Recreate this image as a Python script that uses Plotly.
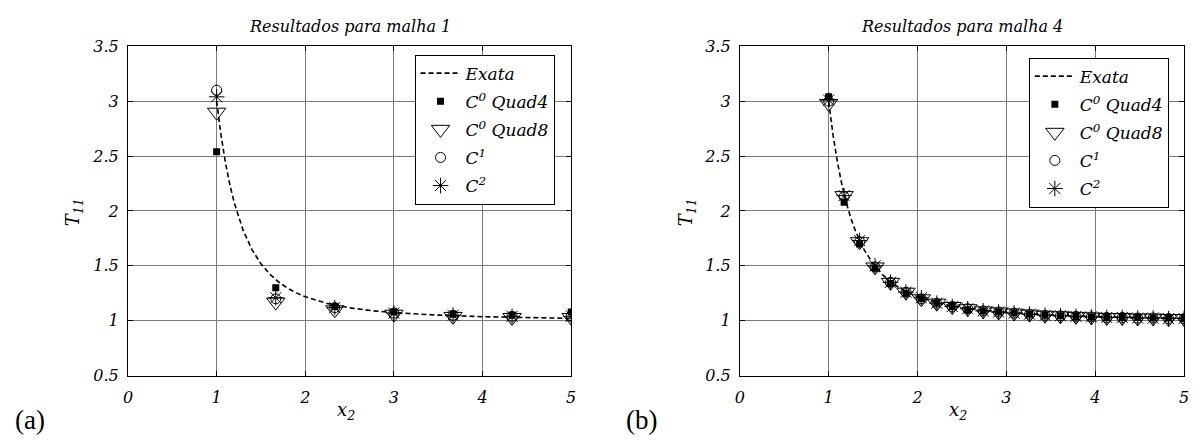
import plotly.graph_objects as go

# Exact solution T11 along x2 (reference curve)
exact_x = [1.00, 1.05, 1.10, 1.15, 1.20, 1.25, 1.30, 1.40, 1.50, 1.60, 1.70,
           1.80, 1.90, 2.00, 2.25, 2.50, 2.75, 3.00, 3.50, 4.00, 4.50, 5.00]
exact_y = [3.000, 2.688, 2.438, 2.236, 2.071, 1.934, 1.821, 1.646, 1.519, 1.424, 1.353,
           1.297, 1.254, 1.219, 1.157, 1.118, 1.092, 1.074, 1.051, 1.037, 1.028, 1.022]

# Mesh 1 results
m1_x = [1.0, 1.667, 2.333, 3.0, 3.667, 4.333, 5.0]
m1_quad4 = [2.54, 1.30, 1.13, 1.08, 1.06, 1.05, 1.08]
m1_quad8 = [2.90, 1.17, 1.10, 1.06, 1.04, 1.03, 1.03]
m1_c1 = [3.10, 1.20, 1.12, 1.07, 1.05, 1.04, 1.04]
m1_c2 = [3.04, 1.21, 1.12, 1.07, 1.05, 1.04, 1.04]

# Mesh 4 results
m4_x = [1.0, 1.174, 1.348, 1.522, 1.696, 1.870, 2.043, 2.217, 2.391, 2.565, 2.739, 2.913,
        3.087, 3.261, 3.435, 3.609, 3.783, 3.957, 4.130, 4.304, 4.478, 4.652, 4.826, 5.0]
m4_quad4 = [3.04, 2.08, 1.70, 1.48, 1.34, 1.25, 1.20, 1.16, 1.13, 1.10, 1.09, 1.08,
            1.07, 1.06, 1.05, 1.045, 1.04, 1.035, 1.03, 1.03, 1.03, 1.025, 1.025, 1.02]
m4_quad8 = [2.98, 2.14, 1.72, 1.49, 1.35, 1.26, 1.20, 1.16, 1.13, 1.11, 1.09, 1.08,
            1.07, 1.06, 1.05, 1.045, 1.04, 1.035, 1.03, 1.03, 1.025, 1.025, 1.02, 1.02]
m4_c1 = [3.00, 2.13, 1.72, 1.49, 1.35, 1.26, 1.20, 1.16, 1.13, 1.11, 1.09, 1.08,
         1.07, 1.06, 1.05, 1.045, 1.04, 1.035, 1.03, 1.03, 1.025, 1.025, 1.02, 1.02]
m4_c2 = [3.01, 2.14, 1.73, 1.50, 1.35, 1.26, 1.21, 1.16, 1.13, 1.11, 1.09, 1.08,
         1.07, 1.06, 1.05, 1.045, 1.04, 1.035, 1.03, 1.03, 1.025, 1.025, 1.02, 1.02]

x_ticks = [0, 1, 2, 3, 4, 5]
y_ticks = [0.5, 1, 1.5, 2, 2.5, 3, 3.5]
y_tick_text = ["0.5", "1", "1.5", "2", "2.5", "3", "3.5"]

titles = ["Resultados para malha 1", "Resultados para malha 4"]
names = ["Exata", "C<sup>0</sup> Quad4", "C<sup>0</sup> Quad8", "C<sup>1</sup>", "C<sup>2</sup>"]

SERIF = "Liberation Serif"      # upright serif text
ITALIC = "DejaVu Serif"         # serif face with a true italic

fig = go.Figure()


def add_panel(px, quad4, quad8, c1, c2, xa, ya, leg):
    fig.add_trace(go.Scatter(x=exact_x, y=exact_y, mode="lines", name=names[0],
                             line=dict(color="black", width=1.6, dash="5px,3px"),
                             xaxis=xa, yaxis=ya, legend=leg, legendgroup=leg + "a"))
    fig.add_trace(go.Scatter(x=px, y=quad4, mode="markers", name=names[1],
                             marker=dict(symbol="square", size=7, color="black"),
                             xaxis=xa, yaxis=ya, legend=leg, legendgroup=leg + "b"))
    fig.add_trace(go.Scatter(x=px, y=quad8, mode="markers", name=names[2],
                             marker=dict(symbol="triangle-down-open", size=16, color="black",
                                         line=dict(width=1)),
                             xaxis=xa, yaxis=ya, legend=leg, legendgroup=leg + "c"))
    fig.add_trace(go.Scatter(x=px, y=c1, mode="markers", name=names[3],
                             marker=dict(symbol="circle-open", size=10, color="black",
                                         line=dict(width=1)),
                             xaxis=xa, yaxis=ya, legend=leg, legendgroup=leg + "d"))
    fig.add_trace(go.Scatter(x=px, y=c2, mode="markers", name=names[4],
                             marker=dict(symbol="asterisk-open", size=13, color="black",
                                         line=dict(width=1, color="black")),
                             xaxis=xa, yaxis=ya, legend=leg, legendgroup=leg + "e"))


add_panel(m1_x, m1_quad4, m1_quad8, m1_c1, m1_c2, "x", "y", "legend")
add_panel(m4_x, m4_quad4, m4_quad8, m4_c1, m4_c2, "x2", "y2", "legend2")

tick_font = dict(family=ITALIC, size=16, color="black", style="italic")

xcommon = dict(range=[0, 5], tickvals=x_ticks, ticks="inside", ticklen=5, tickcolor="black",
               showline=True, linecolor="black", linewidth=1, mirror="ticks",
               showgrid=True, gridcolor="#7a7a7a", gridwidth=1, zeroline=False,
               tickfont=tick_font, ticklabelstandoff=7)
ycommon = dict(range=[0.5, 3.5], tickvals=y_ticks, ticktext=y_tick_text, ticks="inside",
               ticklen=5, tickcolor="black", showline=True, linecolor="black", linewidth=1,
               mirror="ticks", showgrid=True, gridcolor="#7a7a7a", gridwidth=1, zeroline=False,
               tickfont=tick_font, ticklabelstandoff=5)

legend_common = dict(font=dict(family=ITALIC, size=17, color="black", style="italic"),
                     bgcolor="white", bordercolor="black", borderwidth=1,
                     xanchor="left", yanchor="top", tracegroupgap=3, itemwidth=40)

fig.update_layout(
    width=1195, height=445,
    margin=dict(l=0, r=0, t=0, b=0),
    paper_bgcolor="white", plot_bgcolor="white",
    font=dict(family=SERIF, color="black"),
    xaxis=dict(domain=[0.1038, 0.4778], anchor="y", **xcommon),
    yaxis=dict(domain=[0.1393, 0.9124], anchor="x", **ycommon),
    xaxis2=dict(domain=[0.6201, 0.9950], anchor="y2", **xcommon),
    yaxis2=dict(domain=[0.1393, 0.9124], anchor="x2", **ycommon),
    legend=dict(x=0.3456, y=0.893, **legend_common),
    legend2=dict(x=0.8640, y=0.886, **legend_common),
    showlegend=True,
)

annotations = []
centers = [(0.1038 + 0.4778) / 2, (0.6201 + 0.9950) / 2]
for cx, title in zip(centers, titles):
    annotations.append(dict(text=title, x=cx, y=1 - 18 / 445, xref="paper", yref="paper",
                            showarrow=False, xanchor="center", yanchor="middle",
                            font=dict(family=ITALIC, size=16, color="black", style="italic")))
    annotations.append(dict(text="x<sub>2</sub>", x=cx - 0.003, y=1 - 420 / 445, xref="paper",
                            yref="paper", showarrow=False, xanchor="center", yanchor="middle",
                            font=dict(family=ITALIC, size=18, color="black", style="italic")))
for lx in [70 / 1195, 688 / 1195]:
    annotations.append(dict(text="T<sub>11</sub>", x=lx, y=1 - 212 / 445, xref="paper",
                            yref="paper", showarrow=False, textangle=-90,
                            xanchor="center", yanchor="middle",
                            font=dict(family=ITALIC, size=18, color="black", style="italic")))
for lbl, lx in [("(a)", 8 / 1195), ("(b)", 624 / 1195)]:
    annotations.append(dict(text=lbl, x=lx, y=1 - 429 / 445, xref="paper", yref="paper",
                            showarrow=False, xanchor="left", yanchor="middle",
                            font=dict(family=SERIF, size=27, color="black")))
fig.update_layout(annotations=annotations)

fig.write_html("out.html")
